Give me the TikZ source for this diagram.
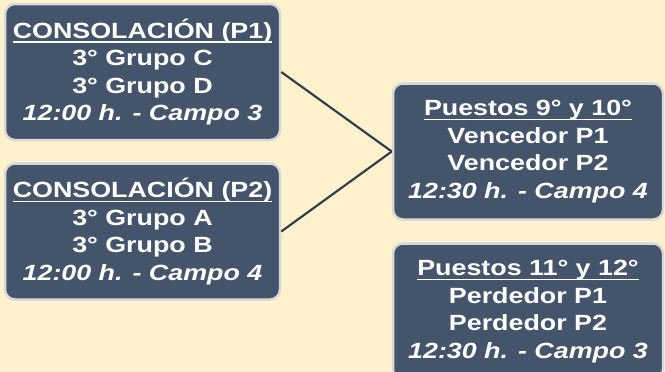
\documentclass[tikz,border=0pt]{standalone}
\usepackage{fontspec}
\setmainfont{Liberation Sans}[FakeStretch=1.22]
\definecolor{bgcol}{HTML}{FFF2CC}
\definecolor{boxfill}{HTML}{44546A}
\definecolor{boxborder}{HTML}{D9D9D9}
\definecolor{linkcol}{HTML}{333F50}
\newcommand\myul[1]{\setbox0\hbox{#1}\rlap{\rule[-4.5pt]{\wd0}{1.4pt}}\box0}
\begin{document}
\begin{tikzpicture}[x=1pt,y=-1pt,
  box/.style={draw=boxborder, line width=2.5pt, fill=boxfill, rounded corners=10pt,
    minimum width=275pt, minimum height=136pt, text=white, align=center,
    font=\fontsize{22}{27.5}\selectfont\bfseries, inner sep=0pt},
  link/.style={draw=linkcol, line width=2.2pt}]
\fill[bgcol] (0,0) rectangle (665,372);
\useasboundingbox (0,0) rectangle (665,372);
\node[box] (p1) at (142.5,72) {\myul{CONSOLACIÓN (P1)}\\3° Grupo C\\3° Grupo D\\\textit{12:00 h. - Campo 3}};
\node[box] (p2) at (142.5,231.5) {\myul{CONSOLACIÓN (P2)}\\3° Grupo A\\3° Grupo B\\\textit{12:00 h. - Campo 4}};
\node[box, minimum width=270pt] (b910) at (528,151.5) {\myul{Puestos 9° y 10°}\\Vencedor P1\\Vencedor P2\\\textit{12:30 h. - Campo 4}};
\node[box, minimum width=270pt] (b1112) at (528,311.5) {\myul{Puestos 11° y 12°}\\Perdedor P1\\Perdedor P2\\\textit{12:30 h. - Campo 3}};
\draw[link] (p1.east) -- (b910.west);
\draw[link] (p2.east) -- (b910.west);
\end{tikzpicture}
\end{document}
